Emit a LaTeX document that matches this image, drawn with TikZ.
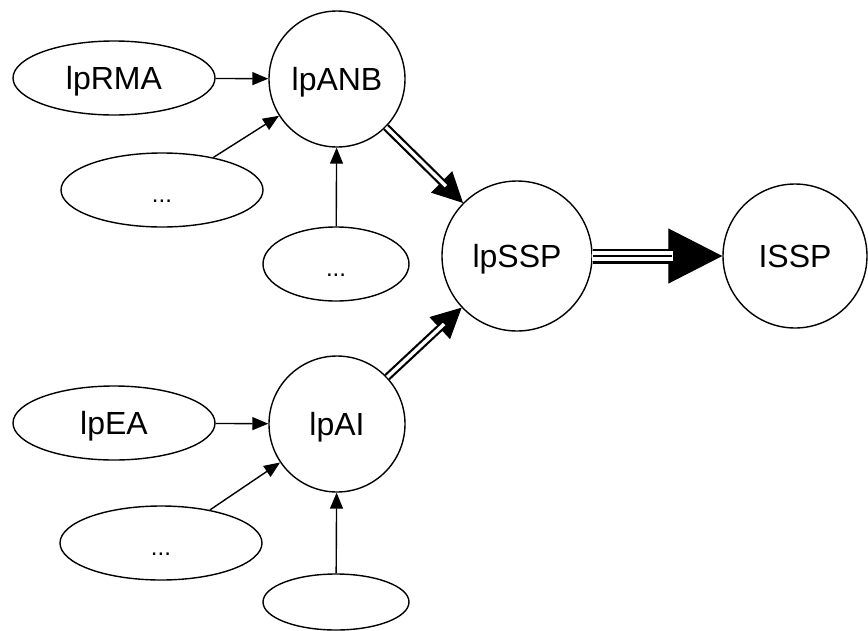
\documentclass[tikz,border=0pt]{standalone}
\usepackage{fontspec}
\setmainfont{Liberation Sans}
\usetikzlibrary{arrows.meta,shapes.geometric}
\begin{document}
\begin{tikzpicture}[x=1pt,y=-1pt,
  base/.style={draw, line width=1.4pt, inner sep=0pt, font=\fontsize{32}{36}\selectfont, text height=22pt, text depth=0pt},
  circ/.style={base, circle},
  ell/.style={base, ellipse},
  dots/.style={font=\fontsize{24}{28}\selectfont, text height=25pt},
  thin/.style={line width=1.4pt, -{Triangle[length=16pt,width=13pt]}},
  dbltip/.style={line width=1pt, -{Triangle[length=30pt,width=30pt]}},
  dblshaft/.style={line width=2.2pt, double, double distance=3.4pt, shorten >=24pt}
]
\useasboundingbox (0,0) rectangle (868,630);
% main circles
\node[circ, minimum size=136pt] (anb) at (337,79) {lpANB};
\node[circ, minimum size=136pt] (ai) at (337,424) {lpAI};
\node[circ, minimum size=150pt] (ssp) at (517,256) {lpSSP};
\node[circ, minimum size=144pt] (issp) at (795,256) {ISSP};
% ellipses
\node[ell, minimum width=202pt, minimum height=74pt] (rma) at (114,78) {lpRMA};
\node[ell, dots, minimum width=202pt, minimum height=74pt] (e1) at (162,190) {...};
\node[ell, dots, minimum width=146pt, minimum height=74pt] (e2) at (336,264) {...};
\node[ell, minimum width=202pt, minimum height=74pt] (ea) at (114,423) {lpEA};
\node[ell, dots, minimum width=202pt, minimum height=74pt] (e3) at (161,543) {...};
\node[ell, minimum width=146pt, minimum height=56pt] (e4) at (336,602) {};
% thin arrows
\draw[thin] (rma) -- (anb);
\draw[thin] (e1) -- (anb);
\draw[thin] (e2) -- (anb);
\draw[thin] (ea) -- (ai);
\draw[thin] (e3) -- (ai);
\draw[thin] (e4) -- (ai);
% double arrows
\draw[dbltip] (anb) -- (ssp);
\draw[dblshaft] (anb) -- (ssp);
\draw[dbltip] (ai) -- (ssp);
\draw[dblshaft] (ai) -- (ssp);
% triple arrow
\draw[line width=1pt, -{Triangle[length=54pt,width=55pt]}] (ssp) -- (issp);
\draw[line width=15pt, shorten >=50pt] (ssp) -- (issp);
\draw[line width=9.5pt, white, shorten >=49pt, shorten <=-1pt] (ssp) -- (issp);
\draw[line width=2.6pt, shorten >=50pt] (ssp) -- (issp);
\end{tikzpicture}
\end{document}
